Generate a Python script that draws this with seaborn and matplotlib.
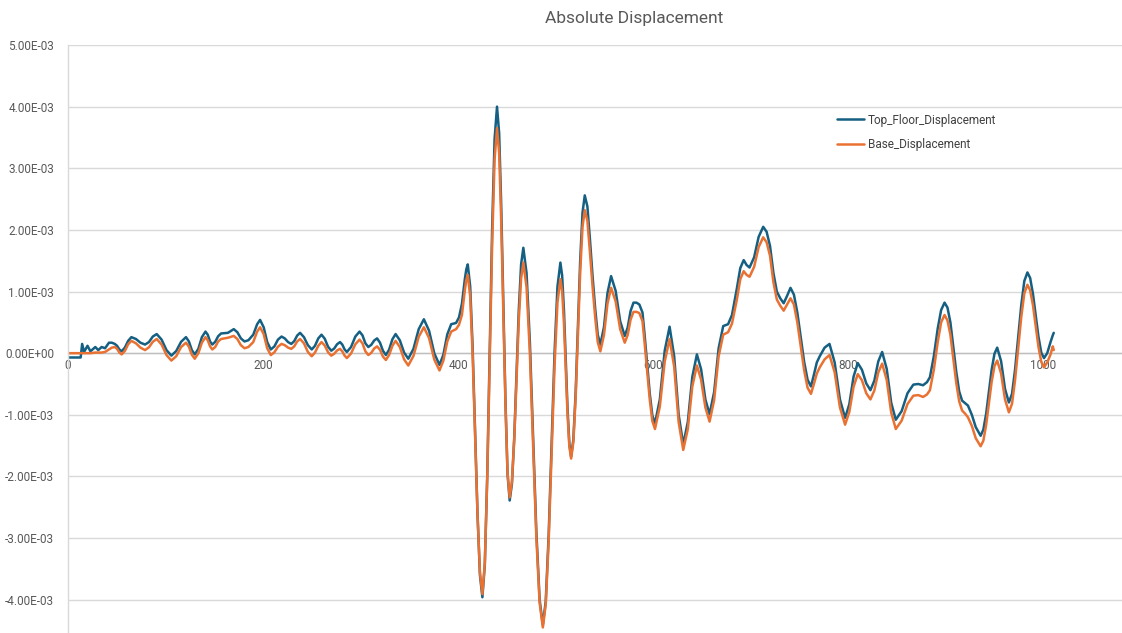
import matplotlib
matplotlib.use("Agg")
import matplotlib.pyplot as plt
from matplotlib.ticker import FuncFormatter, MultipleLocator
import numpy as np
import pandas as pd
import seaborn as sns

# displacement values, in units of 1E-03
time_step = [
    0, 6, 13, 14.5, 16.5, 20, 23, 28, 31, 34.5, 38, 42, 45, 48, 50.3, 52.7,
    55, 58.3, 61.7, 65, 69.7, 74.3, 79, 83, 87, 91, 96, 101, 106, 111, 116,
    121, 124, 127, 130, 133.7, 137.3, 141, 143.3, 145.7, 148, 151, 154, 157,
    164, 170, 173.7, 177.3, 181, 185, 190, 194, 197, 200.7, 204.3, 208,
    211.7, 215.3, 219, 222.3, 225.7, 229, 232, 235, 238, 242, 246, 250,
    253.3, 256.7, 260, 263.3, 266.7, 270, 273, 276, 279, 281.3, 283.7, 286,
    290.3, 294.7, 299, 302, 305, 308, 311, 314, 317, 320, 323, 326, 329.3,
    332.7, 336, 340.3, 344.7, 349, 354.3, 359.7, 365, 370.3, 375.7, 381,
    385, 389, 393, 398, 401, 404, 407, 408.5, 410, 412.5, 415, 417.5, 420,
    422.5, 425, 427.5, 430, 432.5, 435, 437.5, 440, 442.2, 444.3, 446.5,
    448.7, 450.8, 453, 455.3, 457.7, 460, 462.3, 464.7, 467, 470.3, 473.7,
    477, 480.3, 483.7, 487, 490, 493, 496, 499, 502, 505, 506.8, 508.7,
    510.5, 512.3, 514.2, 516, 518.3, 520.7, 523, 525.3, 527.7, 530, 532.7,
    535.3, 538, 540.7, 543.3, 546, 549.7, 553.3, 557, 561.7, 566.3, 571,
    574, 577, 580, 583, 586, 589.2, 591.3, 596.7, 599.3, 602, 607, 612, 617,
    621.7, 626.3, 631, 635.7, 640.3, 645, 649.3, 653.7, 658, 662.7, 667.3,
    672, 677, 681, 686, 689.5, 693, 696, 699, 703.7, 708.3, 713, 716.5, 720,
    723.5, 727, 730.5, 734, 737.5, 741, 744.5, 748, 751.5, 755, 758.5, 762,
    765, 768, 771, 776, 781, 786.3, 791.7, 797, 801.3, 805.7, 810, 814.3,
    818.7, 823, 827, 831, 835, 839.7, 844.3, 849, 855, 861, 867, 872, 877,
    881, 884, 888, 892, 895.5, 899, 902, 905, 908, 911, 914, 917, 920, 923,
    927, 931, 936, 938.8, 941.7, 944.5, 947.3, 950.2, 953, 957, 961, 965,
    968.2, 971.3, 974.5, 977.7, 980.8, 984, 986.8, 989.7, 992.5, 995.3,
    998.2, 1001, 1004.3, 1007.7, 1010, 1011,
]

top_floor = [
    -0.07, -0.07, -0.07, 0.15, 0.02, 0.12, 0.03, 0.10, 0.05, 0.10, 0.08, 0.17,
    0.17, 0.15, 0.12, 0.06, 0.03, 0.09, 0.20, 0.26, 0.23, 0.17, 0.14, 0.18,
    0.27, 0.31, 0.22, 0.05, -0.04, 0.035, 0.185, 0.26, 0.19, 0.05, -0.02,
    0.07, 0.26, 0.35, 0.30, 0.19, 0.14, 0.185, 0.275, 0.32, 0.33, 0.39, 0.34,
    0.24, 0.19, 0.21, 0.30, 0.47, 0.54, 0.42, 0.18, 0.06, 0.11, 0.22, 0.27,
    0.24, 0.18, 0.15, 0.195, 0.285, 0.33, 0.26, 0.13, 0.06, 0.12, 0.24, 0.30,
    0.235, 0.105, 0.04, 0.075, 0.145, 0.18, 0.14, 0.06, 0.02, 0.10, 0.27,
    0.35, 0.29, 0.16, 0.10, 0.135, 0.205, 0.24, 0.17, 0.04, -0.03, 0.055,
    0.225, 0.31, 0.21, 0.01, -0.09, 0.07, 0.39, 0.55, 0.365, -0.005, -0.19,
    -0.025, 0.305, 0.47, 0.49, 0.58, 0.80, 1.20, 1.36, 1.44, 1.08, 0.09,
    -1.26, -2.61, -3.60, -3.96, -3.43, -1.97, 0.02, 2.01, 3.47, 4.00, 3.57,
    2.40, 0.80, -0.80, -1.96, -2.39, -2.12, -1.365, -0.34, 0.685, 1.44, 1.71,
    1.30, 0.18, -1.35, -2.88, -4.00, -4.41, -4.02, -2.94, -1.47, 0.0, 1.08,
    1.47, 1.26, 0.68, -0.105, -0.89, -1.47, -1.68, -1.40, -0.62, 0.44, 1.50,
    2.28, 2.56, 2.38, 1.85, 1.25, 0.72, 0.30, 0.14, 0.425, 0.975, 1.25, 1.01,
    0.52, 0.28, 0.415, 0.685, 0.82, 0.82, 0.79, 0.66, 0.31, -0.66, -1.01,
    -1.14, -0.75, 0.04, 0.43, -0.05, -1.0, -1.48, -1.115, -0.385, -0.02,
    -0.26, -0.75, -0.99, -0.63, 0.08, 0.44, 0.47, 0.62, 1.05, 1.38, 1.51,
    1.43, 1.39, 1.555, 1.885, 2.05, 1.97, 1.74, 1.30, 1.00, 0.89, 0.81, 0.93,
    1.06, 0.95, 0.66, 0.26, -0.14, -0.43, -0.54, -0.35, -0.15, -0.05, 0.09,
    0.15, -0.15, -0.75, -1.05, -0.83, -0.38, -0.16, -0.27, -0.49, -0.60,
    -0.445, -0.135, 0.02, -0.255, -0.805, -1.08, -0.94, -0.65, -0.51, -0.50,
    -0.52, -0.47, -0.39, -0.05, 0.40, 0.70, 0.82, 0.74, 0.50, 0.10, -0.30,
    -0.62, -0.77, -0.81, -0.85, -1.00, -1.20, -1.34, -1.24, -0.98, -0.63,
    -0.27, -0.01, 0.09, -0.13, -0.58, -0.80, -0.66, -0.27, 0.255, 0.78, 1.17,
    1.31, 1.22, 0.96, 0.615, 0.27, 0.01, -0.08, 0.0, 0.18, 0.29, 0.33,
]

base = [
    0.0, 0.0, 0.0, 0.0, 0.0, 0.0, 0.0, 0.01, 0.01, 0.01, 0.02, 0.06, 0.09,
    0.10, 0.07, 0.01, -0.02, 0.035, 0.145, 0.20, 0.16, 0.09, 0.05, 0.095,
    0.185, 0.23, 0.14, -0.03, -0.12, -0.05, 0.10, 0.17, 0.105, -0.025, -0.09,
    0.0, 0.17, 0.26, 0.21, 0.11, 0.06, 0.10, 0.19, 0.23, 0.25, 0.28, 0.23,
    0.13, 0.08, 0.10, 0.18, 0.35, 0.42, 0.31, 0.08, -0.03, 0.015, 0.105, 0.15,
    0.13, 0.09, 0.07, 0.11, 0.19, 0.23, 0.16, 0.02, -0.05, 0.01, 0.12, 0.18,
    0.125, 0.015, -0.04, -0.01, 0.045, 0.07, 0.03, -0.04, -0.08, -0.005,
    0.145, 0.22, 0.16, 0.03, -0.03, 0.005, 0.075, 0.11, 0.055, -0.055, -0.11,
    -0.03, 0.12, 0.20, 0.10, -0.10, -0.20, -0.045, 0.265, 0.42, 0.245, -0.105,
    -0.28, -0.12, 0.19, 0.35, 0.39, 0.46, 0.62, 1.02, 1.19, 1.27, 0.92,
    -0.025, -1.32, -2.615, -3.56, -3.91, -3.40, -2.02, -0.13, 1.76, 3.14,
    3.65, 3.25, 2.15, 0.655, -0.85, -1.94, -2.34, -2.08, -1.39, -0.43, 0.52,
    1.21, 1.47, 1.07, 0.0, -1.49, -2.97, -4.05, -4.45, -4.07, -3.04, -1.625,
    -0.21, 0.82, 1.20, 1.005, 0.47, -0.255, -0.98, -1.515, -1.71, -1.44,
    -0.70, 0.305, 1.31, 2.05, 2.32, 2.15, 1.64, 1.08, 0.58, 0.18, 0.03, 0.295,
    0.805, 1.06, 0.84, 0.39, 0.17, 0.295, 0.545, 0.67, 0.67, 0.65, 0.52, 0.18,
    -0.76, -1.10, -1.23, -0.865, -0.135, 0.23, -0.22, -1.12, -1.57, -1.23,
    -0.54, -0.20, -0.43, -0.88, -1.11, -0.76, -0.05, 0.30, 0.34, 0.48, 0.87,
    1.20, 1.33, 1.27, 1.24, 1.40, 1.72, 1.88, 1.80, 1.58, 1.15, 0.87, 0.77,
    0.69, 0.79, 0.89, 0.79, 0.50, 0.115, -0.275, -0.56, -0.66, -0.50, -0.33,
    -0.23, -0.10, -0.03, -0.31, -0.88, -1.16, -0.955, -0.545, -0.34, -0.44,
    -0.65, -0.75, -0.605, -0.315, -0.17, -0.435, -0.965, -1.23, -1.095,
    -0.825, -0.69, -0.68, -0.71, -0.67, -0.60, -0.27, 0.18, 0.50, 0.62, 0.53,
    0.30, -0.09, -0.48, -0.78, -0.93, -0.98, -1.04, -1.18, -1.38, -1.51,
    -1.42, -1.16, -0.815, -0.465, -0.21, -0.12, -0.33, -0.75, -0.96, -0.82,
    -0.44, 0.075, 0.59, 0.97, 1.11, 1.02, 0.775, 0.44, 0.105, -0.14, -0.23,
    -0.15, -0.02, 0.11, 0.05,
]

series_names = ["Top_Floor_Displacement", "Base_Displacement"]
series_colors = ["#156082", "#E97132"]

df = pd.concat([
    pd.DataFrame({"step": time_step, "disp": np.array(top_floor) * 1e-3,
                  "series": series_names[0]}),
    pd.DataFrame({"step": time_step, "disp": np.array(base) * 1e-3,
                  "series": series_names[1]}),
], ignore_index=True)

sns.set_theme(style="white")
plt.rcParams["font.family"] = ["Roboto", "DejaVu Sans"]

fig = plt.figure(figsize=(11.22, 6.33), dpi=100)
ax = fig.add_axes([68 / 1122, 0, 1 - 68 / 1122, 1 - 45 / 633])

sns.lineplot(
    data=df, x="step", y="disp", hue="series",
    palette=dict(zip(series_names, series_colors)),
    estimator=None, sort=False, linewidth=1.8, ax=ax,
)
for line in ax.lines:
    line.set_solid_joinstyle("round")
    line.set_solid_capstyle("round")

ax.set_xlim(0, 1081)
ax.set_ylim(-4.54e-3, 5e-3)
ax.yaxis.set_major_locator(MultipleLocator(1e-3))
ax.xaxis.set_major_locator(MultipleLocator(200))
ax.yaxis.set_major_formatter(FuncFormatter(lambda v, p: f"{v:.2E}"))
ax.set_xlabel("")
ax.set_ylabel("")

ax.grid(axis="y", color="#d9d9d9", linewidth=1)
ax.set_axisbelow(True)
for side in ["top", "right"]:
    ax.spines[side].set_visible(False)
ax.spines["left"].set_color("#d9d9d9")
ax.spines["left"].set_linewidth(1)
ax.spines["bottom"].set_position(("data", 0))
ax.spines["bottom"].set_color("#bfbfbf")
ax.spines["bottom"].set_linewidth(1)
ax.spines["bottom"].set_zorder(1.5)

ax.tick_params(axis="both", length=0, labelsize=8.5, labelcolor="#595959")
ax.tick_params(axis="x", pad=4)
ax.tick_params(axis="y", pad=10)

handles, labels = ax.get_legend_handles_labels()
ax.legend(
    handles, labels, loc="upper left", frameon=False,
    bbox_to_anchor=(826 / 1122, 1 - 103 / 633), bbox_transform=fig.transFigure,
    fontsize=8.5, handlelength=2.3, handletextpad=0.35, labelspacing=0.95,
    labelcolor="#404040",
)

fig.text(634 / 1122, 1 - 18 / 633, "Absolute Displacement", ha="center",
         va="center", fontsize=12.5, color="#595959")

fig.savefig("out.png", dpi=100)
plt.close(fig)
